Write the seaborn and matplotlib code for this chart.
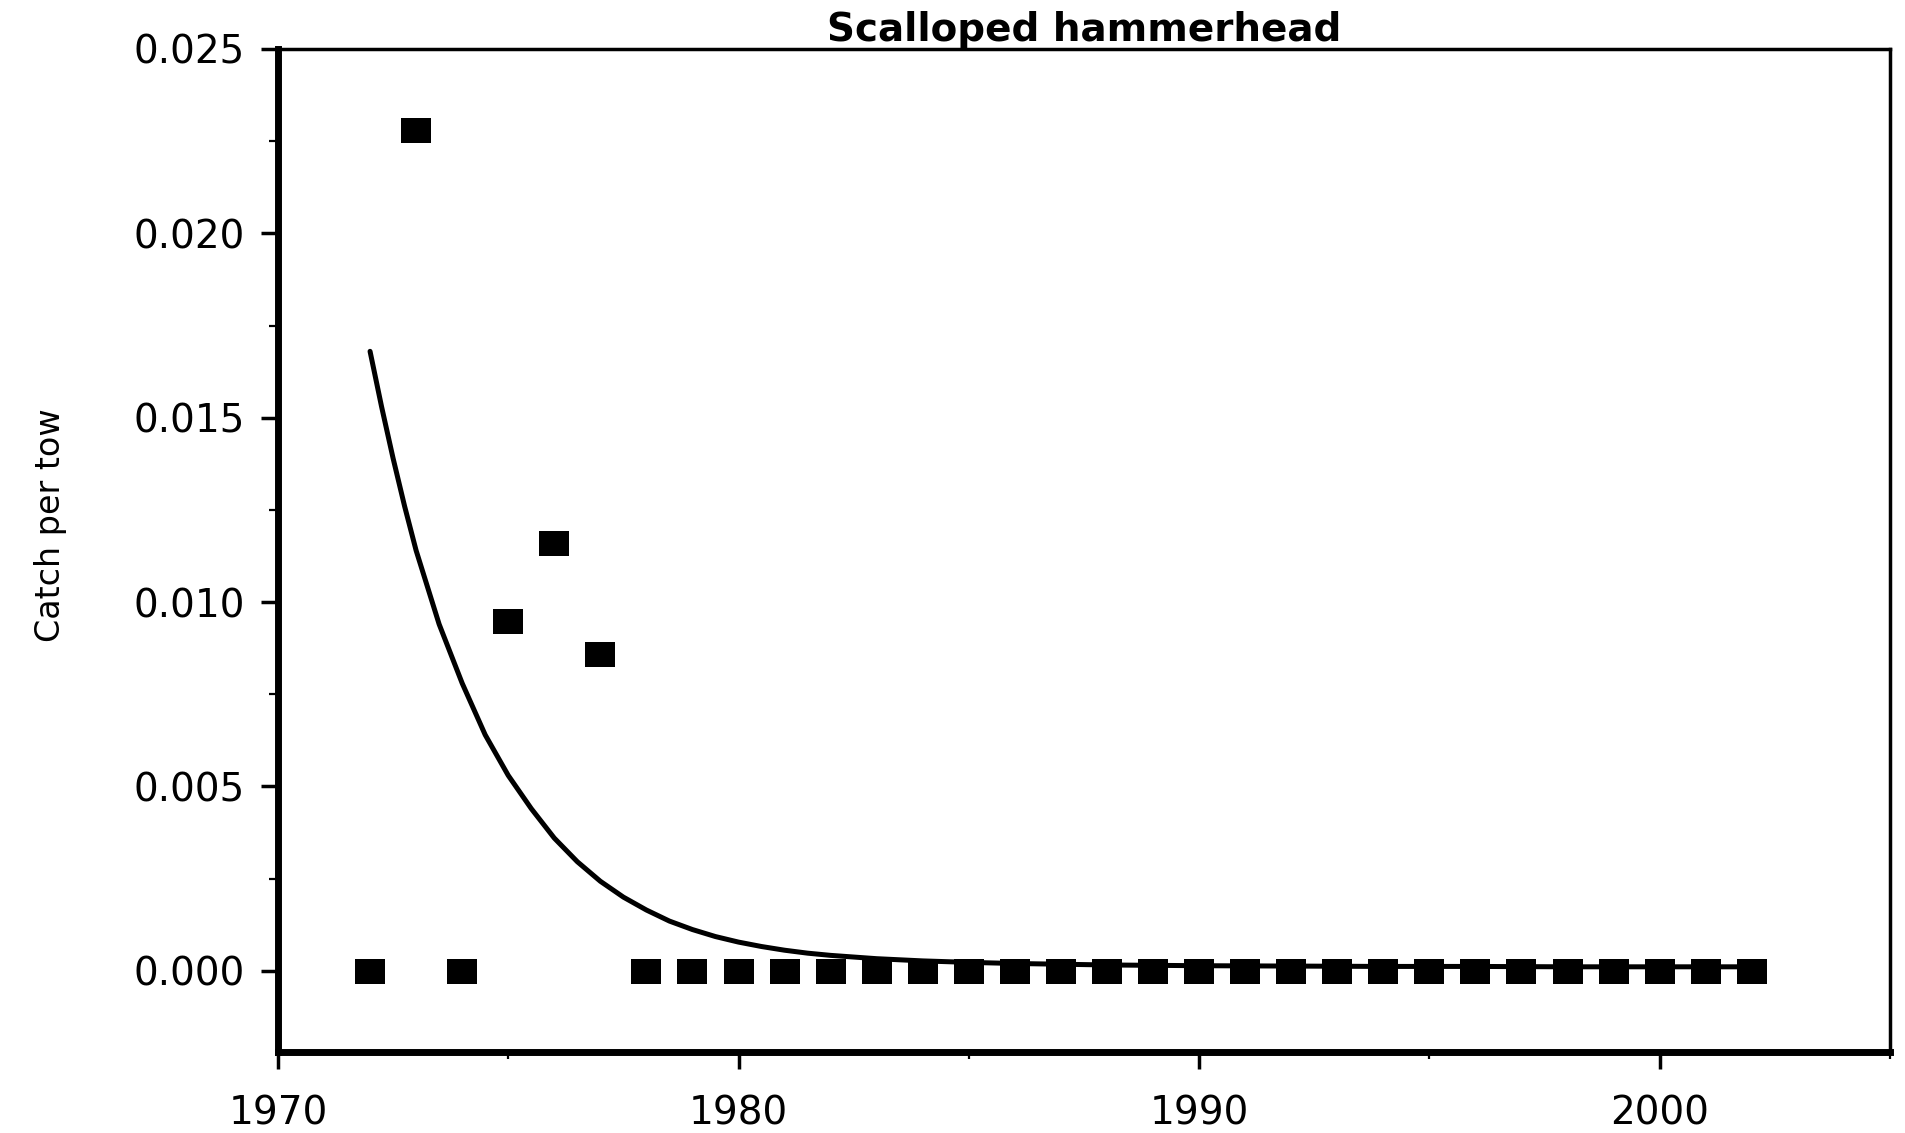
import numpy as np
import pandas as pd
import matplotlib
matplotlib.use("Agg")
import matplotlib.pyplot as plt
from matplotlib.path import Path
import seaborn as sns

# ---- data ----
obs_years = [1972, 1973, 1974, 1975, 1976, 1977, 1978, 1979, 1980, 1981, 1982,
             1983, 1984, 1985, 1986, 1987, 1988, 1989, 1990, 1991, 1992, 1993,
             1994, 1995, 1996, 1997, 1998, 1999, 2000, 2001, 2002]
obs_cpt = [0.0, 0.0228, 0.0, 0.0095, 0.0116, 0.0086, 0.0, 0.0, 0.0, 0.0, 0.0,
           0.0, 0.0, 0.0, 0.0, 0.0, 0.0, 0.0, 0.0, 0.0, 0.0, 0.0,
           0.0, 0.0, 0.0, 0.0, 0.0, 0.0, 0.0, 0.0, 0.0]

fit_years = [1972, 1972.25, 1972.5, 1972.75, 1973, 1973.25, 1973.5, 1973.75, 1974,
             1974.5, 1975, 1975.5, 1976, 1976.5, 1977, 1977.5, 1978, 1978.5, 1979,
             1979.5, 1980, 1980.5, 1981, 1981.5, 1982, 1983, 1984, 1985, 1986,
             1987, 1988, 1989, 1990, 1992, 1994, 1996, 1998, 2000, 2002]
fit_cpt = [0.0168, 0.0153, 0.0139, 0.0126, 0.0114, 0.0104, 0.0094, 0.0086, 0.0078,
           0.0064, 0.0053, 0.0044, 0.0036, 0.00296, 0.00243, 0.0020, 0.00165, 0.00135, 0.00112,
           0.00093, 0.00078, 0.00066, 0.00056, 0.00048, 0.00042, 0.00033, 0.00027, 0.00023, 0.00020,
           0.00018, 0.00016, 0.00015, 0.00014, 0.00013, 0.00012, 0.00012, 0.00011, 0.00011, 0.00011]

title = "Scalloped hammerhead"
ylabel = "Catch per tow"
xticks = [1970, 1980, 1990, 2000]
yticks = [0.000, 0.005, 0.010, 0.015, 0.020, 0.025]

obs = pd.DataFrame({"year": obs_years, "cpt": obs_cpt})
fit = pd.DataFrame({"year": fit_years, "cpt": fit_cpt})

sns.set_theme(style="ticks")
plt.rcParams["font.family"] = ["DejaVu Sans"]

fig = plt.figure(figsize=(19.05, 11.33), dpi=100)
ax = fig.add_axes([0.1459, 0.0715, 0.9921 - 0.1459, 0.9568 - 0.0715])

sns.lineplot(data=fit, x="year", y="cpt", color="black", linewidth=3.6, ax=ax)

rect = Path([(-0.6, -0.5), (0.6, -0.5), (0.6, 0.5), (-0.6, 0.5), (-0.6, -0.5)],
            [Path.MOVETO, Path.LINETO, Path.LINETO, Path.LINETO, Path.CLOSEPOLY])
sns.scatterplot(data=obs, x="year", y="cpt", color="black", marker=rect,
                s=21.6 ** 2, linewidth=0, ax=ax, zorder=3)

ax.set_xlim(1970, 2005)
ax.set_ylim(-0.0022, 0.025)
ax.set_xticks(xticks)
ax.set_xticks([1975, 1985, 1995, 2005], minor=True)
ax.set_yticks(yticks)
ax.set_yticks([0.0025, 0.0075, 0.0125, 0.0175, 0.0225], minor=True)
ax.set_yticklabels([f"{v:.3f}" for v in yticks])
ax.set_xticklabels([str(v) for v in xticks])

for side in ["left", "bottom"]:
    ax.spines[side].set_linewidth(5.0)
for side in ["top", "right"]:
    ax.spines[side].set_linewidth(2.5)
for s in ax.spines.values():
    s.set_color("black")

ax.tick_params(axis="x", which="major", length=12.5, width=2.5, pad=18,
               labelsize=28, color="black", labelcolor="black", direction="out")
ax.tick_params(axis="x", which="minor", length=5, width=1.6, direction="out", color="black")
ax.tick_params(axis="y", which="major", length=12, width=2.5, pad=12,
               labelsize=28, color="black", labelcolor="black", direction="out")
ax.tick_params(axis="y", which="minor", length=6.5, width=1.6, direction="out", color="black")

ax.set_xlabel("")
ax.set_ylabel(ylabel, fontsize=24, color="black")
ax.yaxis.set_label_coords(-0.131, 0.525)
ax.set_title(title, fontsize=28, fontweight="bold", color="black", pad=6)

fig.savefig("out.png", dpi=100, facecolor="white")
